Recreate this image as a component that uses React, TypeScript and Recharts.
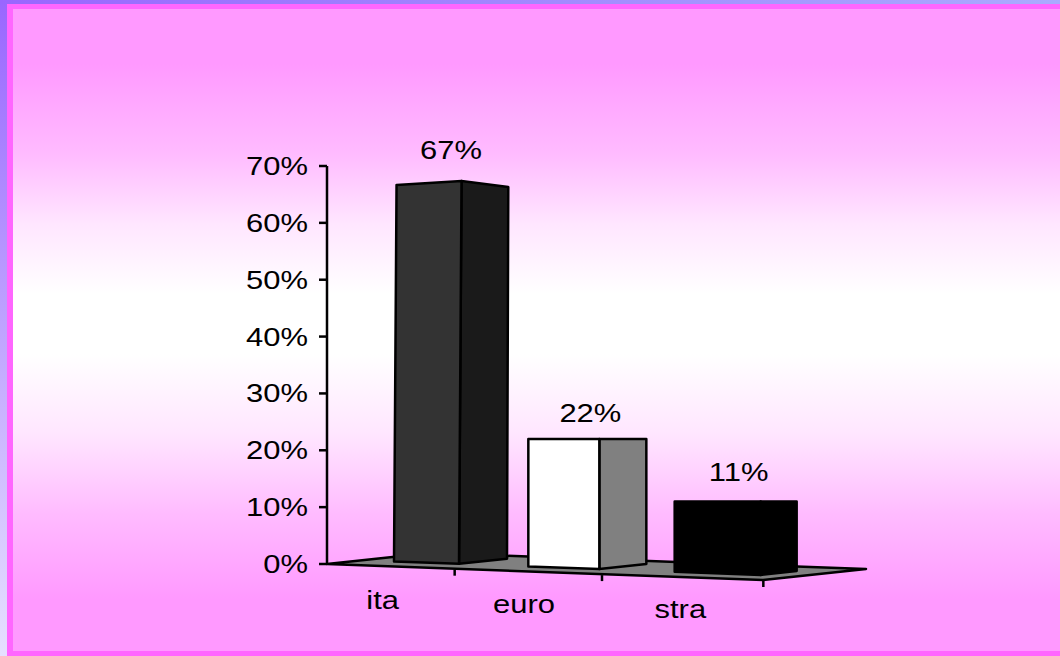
import { Bar, BarChart, LabelList, ReferenceLine, XAxis, YAxis } from "recharts"

const categories = ["ita", "euro", "stra"]
const shares = [67, 22, 11]
const yTicks = [0, 10, 20, 30, 40, 50, 60, 70]

const data = categories.map((name, i) => ({ name, share: shares[i] }))

// look of the fake 3D boxes, per category
const frontColors = ["#333333", "#ffffff", "#000000"]
const sideColors = ["#1a1a1a", "#808080", "#000000"]
const barShift = [27, 16, 17]
const frontWidths = [65, 71, 86]
const sideWidths = [48, 47, 36]
const labelShift = [51, 45, 48]
const labelLift = [24, 17, 20]
const tickShift = [55, 57, 73]
const nameShift = [-17, -21, -10]
const nameDrop = [43, 47, 52]

const FLOOR_LEFT = 327
const FRONT_SLOPE = 0.0367
const SIDE_SLOPE = 0.107
const HORIZON = 438
const TEXT_STRETCH = 1.19
const FONT = "'Liberation Sans', Arial, sans-serif"

const pageGradient =
  "linear-gradient(to bottom, #ff99ff 0px, #ff99ff 55px, #ffbbff 145px, #ffe6ff 215px, #ffffff 285px, #ffffff 345px, #ffe6ff 425px, #ffbbff 505px, #ff99ff 590px, #ff99ff 642px)"

function Label3D({ x, y, anchor, children }: any) {
  return (
    <text
      transform={`translate(${x} ${y}) scale(${TEXT_STRETCH} 1)`}
      textAnchor={anchor}
      fontFamily={FONT}
      fontSize={26}
      fill="#000"
    >
      {children}
    </text>
  )
}

function Box3D({ x, y, height, index }: any) {
  const left = x + barShift[index]
  const mid = left + frontWidths[index]
  const right = mid + sideWidths[index]
  const base = y + height
  const rise = Math.max(0, HORIZON - y) / 64
  const lean = Math.max(0, HORIZON - y) / 100

  const bottomLeft = base + (left - FLOOR_LEFT) * FRONT_SLOPE - 5
  const bottomMid = bottomLeft + frontWidths[index] * FRONT_SLOPE
  const bottomRight = bottomMid - sideWidths[index] * SIDE_SLOPE
  const topLeft = y + rise / 2
  const topMid = y - rise / 2
  const topRight = topMid + rise * 1.5

  const front = `${left + lean},${topLeft} ${mid + lean},${topMid} ${mid},${bottomMid} ${left},${bottomLeft}`
  const side = `${mid + lean},${topMid} ${right + lean / 2},${topRight} ${right},${bottomRight} ${mid},${bottomMid}`
  return (
    <g stroke="#000" strokeWidth={2.5} strokeLinejoin="round">
      <polygon points={side} fill={sideColors[index]} />
      <polygon points={front} fill={frontColors[index]} />
    </g>
  )
}

function Floor({ x1, y1, x2 }: any) {
  const frontRight = x2 - x1
  const points = [
    [x1, y1],
    [x2, y1 + frontRight * FRONT_SLOPE],
    [x2 + 103, y1 + frontRight * FRONT_SLOPE - 11],
    [x1 + 103, y1 - 11],
  ]
  return (
    <polygon
      points={points.map((p) => p.join(",")).join(" ")}
      fill="#808080"
      stroke="#000"
      strokeWidth={2.5}
      strokeLinejoin="round"
    />
  )
}

function CategoryTick({ x, y, payload, index }: any) {
  const i = payload.index ?? index
  const markX = x + tickShift[i]
  const markY = y - 1 + (markX - FLOOR_LEFT) * FRONT_SLOPE
  return (
    <g>
      <line x1={markX} x2={markX} y1={markY} y2={markY + 6} stroke="#000" strokeWidth={2.5} />
      <Label3D x={x + nameShift[i]} y={y + nameDrop[i]} anchor="middle">
        {payload.value}
      </Label3D>
    </g>
  )
}

function PercentTick({ x, y, payload }: any) {
  return (
    <Label3D x={x - 9} y={y + 9} anchor="end">
      {payload.value}%
    </Label3D>
  )
}

function BoxLabel({ x, y, value, index }: any) {
  return (
    <Label3D x={x + labelShift[index] + 33} y={y - labelLift[index]} anchor="middle">
      {value}%
    </Label3D>
  )
}

export default function App() {
  return (
    <div
      style={{
        position: "absolute",
        left: 0,
        top: 0,
        width: 1060,
        height: 656,
        overflow: "hidden",
        background: "linear-gradient(to bottom, #9966ff 0%, #e6e0ff 100%)",
      }}
    >
      <div
        style={{
          position: "absolute",
          left: 0,
          top: 0,
          width: 1060,
          height: 4,
          background: "linear-gradient(to right, #9966ff, #aaaaff)",
        }}
      />
      <div
        style={{
          position: "absolute",
          left: 7,
          top: 4,
          width: 1053,
          height: 652,
          background: "#ff66ff",
        }}
      />
      <div
        style={{
          position: "absolute",
          left: 13,
          top: 9,
          width: 1047,
          height: 642,
          background: pageGradient,
        }}
      />
      <div style={{ position: "absolute", left: 0, top: 0 }}>
        <BarChart
          width={1060}
          height={656}
          data={data}
          barSize={66}
          margin={{ top: 166, right: 297, bottom: 91, left: 247 }}
        >
          <XAxis
            dataKey="name"
            axisLine={false}
            tickLine={false}
            tickSize={0}
            height={1}
            tick={<CategoryTick />}
            interval={0}
          />
          <YAxis
            width={80}
            domain={[0, 70]}
            ticks={yTicks}
            interval={0}
            axisLine={{ stroke: "#000", strokeWidth: 2.5 }}
            tickLine={{ stroke: "#000", strokeWidth: 2.5 }}
            tickSize={8}
            tick={<PercentTick />}
          />
          <ReferenceLine y={0} shape={<Floor />} zIndex={0} />
          <Bar dataKey="share" shape={<Box3D />} isAnimationActive={false}>
            <LabelList dataKey="share" content={<BoxLabel />} />
          </Bar>
        </BarChart>
      </div>
    </div>
  )
}
